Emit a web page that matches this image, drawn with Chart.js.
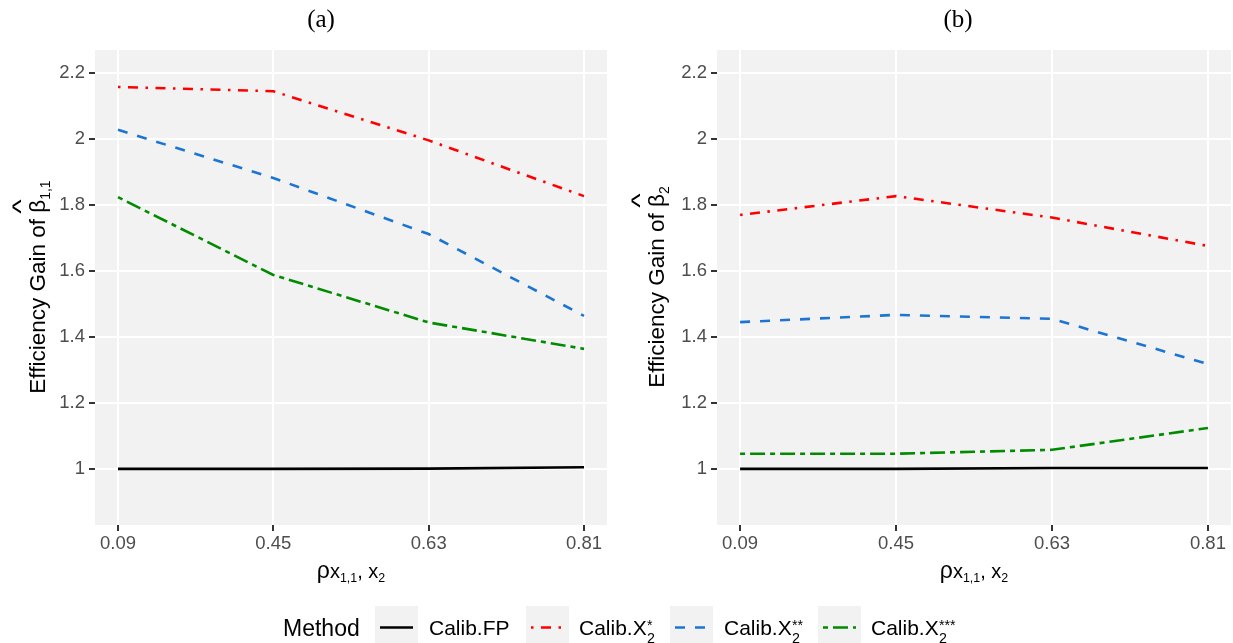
<!DOCTYPE html>
<html>
<head>
<meta charset="utf-8">
<script src="https://cdn.jsdelivr.net/npm/chart.js@4.4.1/dist/chart.umd.min.js"></script>
<style>
    body { margin: 0; width: 1233px; height: 643px; background: #fff; position: relative; overflow: hidden;
           font-family: "Liberation Sans", Arial, sans-serif; color: #000; }
    canvas { position: absolute; top: 0; }
    .title { position: absolute; top: 4px; font-family: "Liberation Serif", "Times New Roman", serif; font-size: 25px;
             width: 100px; margin-left: -50px; text-align: center; line-height: 30px; }
    .ytitle { position: absolute; width: 320px; height: 30px; line-height: 30px; text-align: center; font-size: 22.5px;
              transform: rotate(-90deg); white-space: nowrap; }
    .xtitle { position: absolute; top: 555px; width: 200px; margin-left: -100px; text-align: center; font-size: 23px;
              line-height: 30px; white-space: nowrap; }
    .xtitle .v { font-size: 20px; }
    sub { font-size: 0.62em; vertical-align: -0.35em; line-height: 0; }
    .hat { position: relative; display: inline-block; }
    .hat::before { content: '^'; position: absolute; left: 0.05em; top: -0.72em; font-size: 1.05em; transform: scaleX(1.3); }
    .leg { position: absolute; top: 610px; font-size: 21px; line-height: 36px; white-space: nowrap; }
    .key { position: absolute; top: 606px; width: 43px; height: 43px; background: #f2f2f2; }
    .ss { position: relative; display: inline-block; width: 0.5em; height: 1em; }
    .ss .sp { position: absolute; left: 0.02em; top: -0.5em; font-size: 0.68em; }
    .ss .sb { position: absolute; left: 0.02em; top: 0.42em; font-size: 0.68em; }
</style>
</head>
<body>
<canvas id="chartA" width="612" height="560" style="left:0"></canvas>
<canvas id="chartB" width="616" height="560" style="left:617px"></canvas>

<div class="title" style="left:321px">(a)</div>
<div class="title" style="left:958px">(b)</div>

<div class="ytitle" style="left:-122px; top:272px">Efficiency Gain of <span class="hat">β</span><sub>1,1</sub></div>
<div class="ytitle" style="left:497px; top:272px">Efficiency Gain of <span class="hat">β</span><sub>2</sub></div>

<div class="xtitle" style="left:351px">ρ<span class="v">x<sub>1,1</sub>, x<sub>2</sub></span></div>
<div class="xtitle" style="left:974px">ρ<span class="v">x<sub>1,1</sub>, x<sub>2</sub></span></div>

<div class="leg" style="left:283px; font-size:23px">Method</div>
<div id="legend"></div>

<script>
// x categories (factor levels of rho) and y ticks
const xLabels = ['0.09', '0.45', '0.63', '0.81'];
const yTicks = [1, 1.2, 1.4, 1.6, 1.8, 2, 2.2];

const methods = ['Calib.FP', 'Calib.X2*', 'Calib.X2**', 'Calib.X2***'];
const colors = ['#000000', '#ff0000', '#1c75d3', '#008b00'];
const dashes = [[], [2.5, 7.5, 10, 7.5], [10, 10], [5, 5, 15, 5]];

// panel (a): efficiency gain of beta_1,1
const gainB11FP = [1.000, 1.000, 1.001, 1.005];
const gainB11X1 = [2.158, 2.145, 1.996, 1.827];
const gainB11X2 = [2.028, 1.882, 1.712, 1.464];
const gainB11X3 = [1.824, 1.588, 1.444, 1.364];

// panel (b): efficiency gain of beta_2
const gainB2FP = [1.000, 1.000, 1.003, 1.003];
const gainB2X1 = [1.770, 1.827, 1.762, 1.676];
const gainB2X2 = [1.445, 1.467, 1.455, 1.318];
const gainB2X3 = [1.046, 1.046, 1.058, 1.124];

const panelBg = {
    id: 'panelBg',
    beforeDraw(chart) {
        const { ctx, chartArea: a } = chart;
        ctx.save();
        ctx.fillStyle = '#f2f2f2';
        ctx.fillRect(a.left, a.top, a.right - a.left, a.bottom - a.top);
        ctx.restore();
    }
};

function makeSets(series) {
    return series.map((vals, k) => ({
        label: methods[k],
        data: vals.map((v, i) => ({ x: i, y: v })),
        borderColor: colors[k],
        borderWidth: 2.6,
        borderDash: dashes[k],
        borderCapStyle: 'butt',
        pointRadius: 0,
        tension: 0,
        fill: false
    }));
}

function makeChart(id, series, yWidth, padRight) {
    const tickFont = { family: '"Liberation Sans", Arial, sans-serif', size: 18.5 };
    new Chart(document.getElementById(id), {
        type: 'line',
        data: { datasets: makeSets(series) },
        options: {
            responsive: false,
            animation: false,
            layout: { padding: { top: 50, right: padRight, left: 0, bottom: 0 } },
            plugins: { legend: { display: false }, tooltip: { enabled: false } },
            scales: {
                x: {
                    type: 'linear',
                    min: -0.148,
                    max: 3.148,
                    afterBuildTicks: s => { s.ticks = xLabels.map((_, i) => ({ value: i })); },
                    afterFit: s => { s.height = 35; },
                    ticks: { callback: v => xLabels[v], color: '#4d4d4d', font: tickFont, padding: 2, maxRotation: 0 },
                    grid: { color: '#ffffff', lineWidth: 2, tickColor: '#333333', tickWidth: 2, tickLength: 6 },
                    border: { display: false }
                },
                y: {
                    min: 0.83,
                    max: 2.27,
                    afterBuildTicks: s => { s.ticks = yTicks.map(v => ({ value: v })); },
                    afterFit: s => { s.width = yWidth; },
                    ticks: { callback: v => String(v), color: '#4d4d4d', font: tickFont, padding: 4 },
                    grid: { color: '#ffffff', lineWidth: 2, tickColor: '#333333', tickWidth: 2, tickLength: 6 },
                    border: { display: false }
                }
            }
        },
        plugins: [panelBg]
    });
}

makeChart('chartA', [gainB11FP, gainB11X1, gainB11X2, gainB11X3], 95, 5);
makeChart('chartB', [gainB2FP, gainB2X1, gainB2X2, gainB2X3], 100, 2);

// legend built as html, key samples as small svg lines
const keyLeft = [375, 526, 670, 818];
const labelLeft = [429, 579, 724, 871];
const stars = ['', '*', '**', '***'];
const legend = document.getElementById('legend');
methods.forEach((m, k) => {
    const key = document.createElement('div');
    key.className = 'key';
    key.style.left = keyLeft[k] + 'px';
    key.innerHTML = `<svg width="43" height="43"><line x1="5" y1="21.5" x2="38" y2="21.5" stroke="${colors[k]}"
        stroke-width="2.6" stroke-dasharray="${dashes[k].join(' ') || 'none'}"/></svg>`;
    legend.appendChild(key);

    const lab = document.createElement('div');
    lab.className = 'leg';
    lab.style.left = labelLeft[k] + 'px';
    lab.innerHTML = k === 0 ? m
        : `Calib.X<span class="ss"><span class="sp">${stars[k]}</span><span class="sb">2</span></span>`;
    legend.appendChild(lab);
});
</script>
</body>
</html>
